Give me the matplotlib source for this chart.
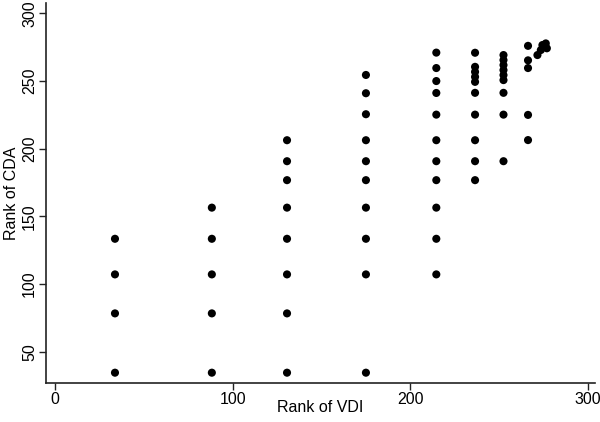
import matplotlib
matplotlib.use('Agg')
import matplotlib.pyplot as plt

plt.rcParams['font.family'] = ['Liberation Sans', 'DejaVu Sans']

# rank of VDI for each vertical column of points, and the CDA ranks in it
col_vdi = [33.8, 88.3, 130.6, 175.0, 214.6, 236.4, 252.4, 266.2]
col_cda = [
    [34.6, 78.4, 107.2, 133.5],
    [34.6, 78.4, 107.2, 133.5, 156.5],
    [34.6, 78.4, 107.2, 133.5, 156.5, 176.8, 190.8, 206.3],
    [34.6, 107.2, 133.5, 156.5, 176.8, 190.8, 206.3, 225.5, 241.0, 254.5],
    [107.2, 133.5, 156.5, 176.8, 190.8, 206.3, 225.2, 241.2, 250.0, 259.6, 271.0],
    [176.8, 190.8, 206.3, 225.2, 241.3, 249.4, 253.1, 256.8, 260.5, 270.9],
    [190.8, 225.2, 241.3, 250.7, 254.4, 258.1, 261.8, 265.5, 269.2],
    [206.4, 225.0, 259.6, 265.3, 276.0],
]
# top ranked cluster (not on a single column)
top_vdi = [271.5, 273.4, 274.3, 276.2, 276.8]
top_cda = [269.2, 272.9, 276.6, 277.8, 274.2]

x_ticks = [0, 100, 200, 300]
y_ticks = [50, 100, 150, 200, 250, 300]

vdi = []
cda = []
for xv, ys in zip(col_vdi, col_cda):
    vdi += [xv] * len(ys)
    cda += ys
vdi += top_vdi
cda += top_cda

fig = plt.figure(figsize=(6, 4.22), dpi=100)
ax = fig.add_axes([0.0767, 0.0931, 0.9153, 0.899])

ax.scatter(vdi, cda, s=34, color='black', edgecolors='none', zorder=3)

ax.set_xlim(-5, 304)
ax.set_ylim(27.2, 307.4)
ax.set_xticks(x_ticks)
ax.set_yticks(y_ticks)
ax.set_yticklabels([str(v) for v in y_ticks], rotation=90, va='center')

for side in ['top', 'right']:
    ax.spines[side].set_visible(False)
for side in ['left', 'bottom']:
    ax.spines[side].set_linewidth(1.2)
    ax.spines[side].set_color('#222222')
ax.tick_params(axis='both', direction='out', length=5, width=1.0,
               color='#222222', labelsize=11.5, pad=1.5)

ax.set_xlabel('Rank of VDI', fontsize=11.5, va='center')
ax.xaxis.set_label_coords(0.5, -0.066)
ax.set_ylabel('Rank of CDA', fontsize=11.5, va='center')
ax.yaxis.set_label_coords(-0.063, 0.5)

fig.savefig('out.png', dpi=100, facecolor='white')
